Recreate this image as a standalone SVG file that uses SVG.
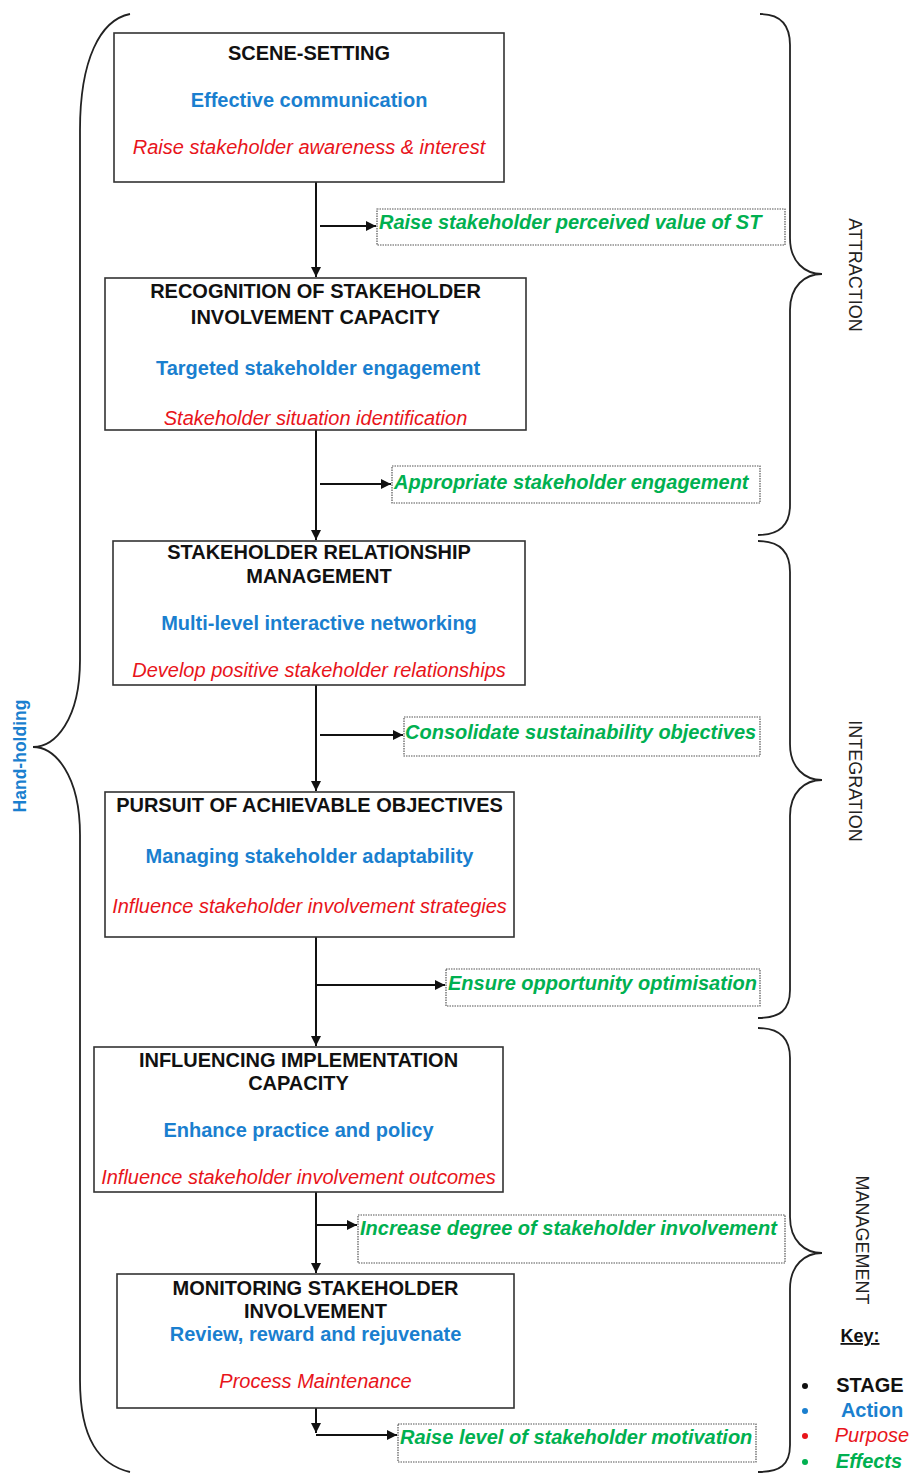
<svg xmlns="http://www.w3.org/2000/svg" width="912" height="1475" viewBox="0 0 912 1475">
<style>
.box{fill:#fff;stroke:#333;stroke-width:1.6}
.eff{fill:none;stroke:#555;stroke-width:1.2;stroke-dasharray:1.5 1}
.t{font-family:"Liberation Sans",Arial,sans-serif;font-size:20px;text-anchor:middle}
.st{font-weight:bold;fill:#111}
.ac{font-weight:bold;fill:#1a7fcf}
.pu{font-style:italic;fill:#e8141a}
.ef{font-family:"Liberation Sans",Arial,sans-serif;font-size:20px;font-weight:bold;font-style:italic;fill:#00b050}
.lab{font-family:"Liberation Sans",Arial,sans-serif;font-size:18px;fill:#222;text-anchor:middle}
.con{stroke:#111;stroke-width:2;fill:none}
.br{stroke:#222;stroke-width:1.8;fill:none}
</style>
<defs>
<marker id="ah" markerWidth="12" markerHeight="12" refX="10" refY="5" orient="auto" markerUnits="userSpaceOnUse">
<path d="M0,0 L10,5 L0,10 Z" fill="#111"/>
</marker>
</defs>

<g id="braces">
<path class="br" d="M130,14 C100,20 80,60 80,130 L80,660 C80,720 55,747 33,747 C55,747 80,775 80,835 L80,1380 C80,1440 100,1465 130,1472"/>
<path class="br" d="M760,14 C780,14 790,25 790,45 L790,238 C790,262 805,274 822,274 C805,274 790,286 790,310 L790,505 C790,525 780,535 758,535"/>
<path class="br" d="M758,541 C780,541 790,552 790,572 L790,744 C790,768 805,780 822,780 C805,780 790,792 790,816 L790,990 C790,1010 780,1018 758,1018"/>
<path class="br" d="M758,1028 C780,1028 790,1038 790,1058 L790,1217 C790,1241 805,1253 822,1253 C805,1253 790,1265 790,1289 L790,1445 C790,1465 780,1472 758,1472"/>
</g>

<g id="labels">
<text class="lab" transform="translate(849,275) rotate(90)">ATTRACTION</text>
<text class="lab" transform="translate(849,781) rotate(90)">INTEGRATION</text>
<text class="lab" transform="translate(856,1240) rotate(90)">MANAGEMENT</text>
<text transform="translate(26,756) rotate(-90)" style="font-family:'Liberation Sans',Arial,sans-serif;font-size:17.5px;font-weight:bold;fill:#1a7fcf;text-anchor:middle">Hand-holding</text>
</g>

<g id="connectors">
<line class="con" x1="316" y1="182" x2="316" y2="277" marker-end="url(#ah)"/>
<line class="con" x1="320" y1="226" x2="376" y2="226" marker-end="url(#ah)"/>
<line class="con" x1="316" y1="430" x2="316" y2="540" marker-end="url(#ah)"/>
<line class="con" x1="320" y1="484" x2="391" y2="484" marker-end="url(#ah)"/>
<line class="con" x1="316" y1="685" x2="316" y2="791" marker-end="url(#ah)"/>
<line class="con" x1="320" y1="735" x2="403" y2="735" marker-end="url(#ah)"/>
<line class="con" x1="316" y1="937" x2="316" y2="1046" marker-end="url(#ah)"/>
<line class="con" x1="316" y1="985" x2="445" y2="985" marker-end="url(#ah)"/>
<line class="con" x1="316" y1="1192" x2="316" y2="1273" marker-end="url(#ah)"/>
<line class="con" x1="316" y1="1225" x2="357" y2="1225" marker-end="url(#ah)"/>
<line class="con" x1="316" y1="1408" x2="316" y2="1433" marker-end="url(#ah)"/>
<line class="con" x1="316" y1="1435" x2="397" y2="1435" marker-end="url(#ah)"/>
</g>

<g id="n1">
<rect class="box" x="114" y="33" width="390" height="149"/>
<text class="t st" x="309" y="60">SCENE-SETTING</text>
<text class="t ac" x="309" y="107">Effective communication</text>
<text class="t pu" x="309" y="154">Raise stakeholder awareness &amp; interest</text>
</g>
<g id="e1">
<rect class="eff" x="377" y="209" width="408" height="36"/>
<text class="ef" x="379" y="229">Raise stakeholder perceived value of ST</text>
</g>

<g id="n2">
<rect class="box" x="105" y="278" width="421" height="152"/>
<text class="t st" x="315.5" y="298">RECOGNITION OF STAKEHOLDER</text>
<text class="t st" x="315.5" y="324">INVOLVEMENT CAPACITY</text>
<text class="t ac" x="318" y="375">Targeted stakeholder engagement</text>
<text class="t pu" x="315.5" y="425">Stakeholder situation identification</text>
</g>
<g id="e2">
<rect class="eff" x="392" y="466" width="368" height="37"/>
<text class="ef" x="394" y="489">Appropriate stakeholder engagement</text>
</g>

<g id="n3">
<rect class="box" x="113" y="541" width="412" height="144"/>
<text class="t st" x="319" y="559">STAKEHOLDER RELATIONSHIP</text>
<text class="t st" x="319" y="583">MANAGEMENT</text>
<text class="t ac" x="319" y="630">Multi-level interactive networking</text>
<text class="t pu" x="319" y="677">Develop positive stakeholder relationships</text>
</g>
<g id="e3">
<rect class="eff" x="404" y="717" width="356" height="39"/>
<text class="ef" x="405" y="739">Consolidate sustainability objectives</text>
</g>

<g id="n4">
<rect class="box" x="105" y="792" width="409" height="145"/>
<text class="t st" x="309.5" y="812">PURSUIT OF ACHIEVABLE OBJECTIVES</text>
<text class="t ac" x="309.5" y="863">Managing stakeholder adaptability</text>
<text class="t pu" x="309.5" y="913">Influence stakeholder involvement strategies</text>
</g>
<g id="e4">
<rect class="eff" x="446" y="969" width="314" height="37"/>
<text class="ef" x="448" y="990">Ensure opportunity optimisation</text>
</g>

<g id="n5">
<rect class="box" x="94" y="1047" width="409" height="145"/>
<text class="t st" x="298.5" y="1067">INFLUENCING IMPLEMENTATION</text>
<text class="t st" x="298.5" y="1090">CAPACITY</text>
<text class="t ac" x="298.5" y="1137">Enhance practice and policy</text>
<text class="t pu" x="298.5" y="1184">Influence stakeholder involvement outcomes</text>
</g>
<g id="e5">
<rect class="eff" x="358" y="1215" width="427" height="48"/>
<text class="ef" x="360" y="1235">Increase degree of stakeholder involvement</text>
</g>

<g id="n6">
<rect class="box" x="117" y="1274" width="397" height="134"/>
<text class="t st" x="315.5" y="1295">MONITORING STAKEHOLDER</text>
<text class="t st" x="315.5" y="1318">INVOLVEMENT</text>
<text class="t ac" x="315.5" y="1341">Review, reward and rejuvenate</text>
<text class="t pu" x="315.5" y="1388">Process Maintenance</text>
</g>
<g id="e6">
<rect class="eff" x="398" y="1424" width="358" height="38"/>
<text class="ef" x="400" y="1444">Raise level of stakeholder motivation</text>
</g>

<g id="key">
<text x="860" y="1342" style="font-family:'Liberation Sans',Arial,sans-serif;font-size:18px;font-weight:bold;fill:#111;text-anchor:middle;text-decoration:underline">Key:</text>
<circle cx="805" cy="1386" r="3" fill="#111"/>
<circle cx="805" cy="1411" r="3" fill="#1a7fcf"/>
<circle cx="805" cy="1436" r="3" fill="#e8141a"/>
<circle cx="805" cy="1462" r="3" fill="#00b050"/>
<text class="t st" x="870" y="1392">STAGE</text>
<text class="t ac" x="872" y="1417">Action</text>
<text class="t pu" x="872" y="1442">Purpose</text>
<text class="t" x="869" y="1468" style="font-weight:bold;font-style:italic;fill:#00b050">Effects</text>
</g>
</svg>
